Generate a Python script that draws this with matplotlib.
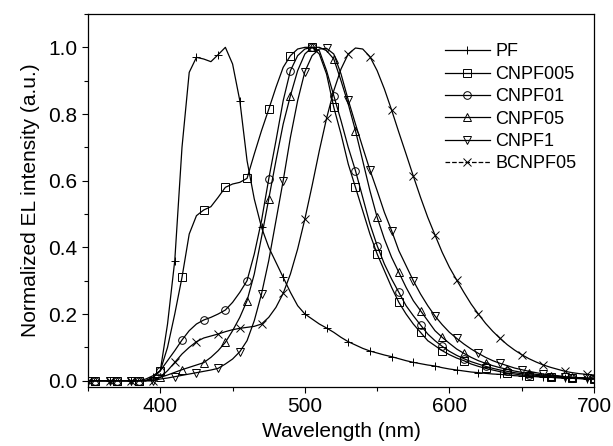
import numpy as np
import matplotlib
matplotlib.use("Agg")
import matplotlib.pyplot as plt
from matplotlib.lines import Line2D
from matplotlib.ticker import MultipleLocator

plt.rcParams["font.family"] = ["Liberation Sans", "DejaVu Sans"]

# wavelength grid (nm), one value every 5 nm from 350 to 700
wavelength = np.arange(350, 701, 5)

# normalized EL intensity
pf = [0, 0, 0, 0, 0, 0, 0, 0, 0, 0.01,
      0.03, 0.17, 0.36, 0.70, 0.925, 0.97, 0.965, 0.957, 0.978, 1.0,
      0.95, 0.84, 0.66, 0.545, 0.46, 0.40, 0.355, 0.31, 0.265, 0.225,
      0.20, 0.185, 0.17, 0.158, 0.145, 0.13, 0.117, 0.107, 0.097, 0.089,
      0.083, 0.077, 0.072, 0.066, 0.06, 0.055, 0.051, 0.047, 0.044, 0.039,
      0.035, 0.032, 0.029, 0.026, 0.024, 0.022, 0.02, 0.019, 0.017, 0.015,
      0.014, 0.013, 0.012, 0.011, 0.01, 0.009, 0.008, 0.007, 0.007, 0.006,
      0.005]
cnpf005 = [0, 0, 0, 0, 0, 0, 0, 0, 0.005, 0.015,
           0.03, 0.10, 0.20, 0.31, 0.44, 0.495, 0.512, 0.522, 0.55, 0.58,
           0.59, 0.595, 0.607, 0.68, 0.75, 0.814, 0.88, 0.94, 0.975, 0.995,
           1.0, 1.0, 0.98, 0.92, 0.82, 0.74, 0.65, 0.58, 0.51, 0.44,
           0.38, 0.33, 0.28, 0.235, 0.2, 0.17, 0.145, 0.12, 0.105, 0.09,
           0.078, 0.068, 0.06, 0.05, 0.043, 0.037, 0.032, 0.027, 0.023, 0.02,
           0.017, 0.015, 0.013, 0.011, 0.01, 0.009, 0.008, 0.007, 0.006, 0.005,
           0.005]
cnpf01 = [0, 0, 0, 0, 0, 0, 0, 0, 0, 0.01,
          0.03, 0.06, 0.09, 0.122, 0.15, 0.17, 0.182, 0.19, 0.2, 0.212,
          0.235, 0.265, 0.30, 0.38, 0.48, 0.605, 0.72, 0.84, 0.93, 0.975,
          0.995, 1.0, 0.99, 0.93, 0.855, 0.78, 0.70, 0.63, 0.55, 0.47,
          0.405, 0.35, 0.305, 0.265, 0.225, 0.195, 0.167, 0.14, 0.12, 0.103,
          0.088, 0.076, 0.066, 0.057, 0.05, 0.043, 0.037, 0.032, 0.028, 0.024,
          0.021, 0.018, 0.016, 0.014, 0.012, 0.011, 0.009, 0.008, 0.007, 0.006,
          0.006]
cnpf05 = [0, 0, 0, 0, 0, 0, 0, 0, 0, 0.005,
          0.01, 0.017, 0.025, 0.033, 0.04, 0.047, 0.054, 0.07, 0.09, 0.115,
          0.15, 0.19, 0.24, 0.32, 0.43, 0.545, 0.66, 0.77, 0.855, 0.93,
          0.98, 1.0, 1.0, 0.99, 0.965, 0.9, 0.83, 0.75, 0.66, 0.57,
          0.49, 0.425, 0.37, 0.325, 0.28, 0.24, 0.21, 0.18, 0.15, 0.13,
          0.112, 0.095, 0.082, 0.07, 0.06, 0.052, 0.045, 0.039, 0.034, 0.029,
          0.025, 0.022, 0.019, 0.017, 0.015, 0.013, 0.011, 0.01, 0.009, 0.008,
          0.007]
cnpf1 = [0, 0, 0, 0, 0, 0, 0, 0, 0, 0,
         0.005, 0.008, 0.012, 0.016, 0.02, 0.024, 0.028, 0.032, 0.037, 0.05,
         0.065, 0.087, 0.12, 0.18, 0.26, 0.36, 0.48, 0.60, 0.73, 0.84,
         0.927, 0.975, 0.995, 0.997, 0.98, 0.92, 0.842, 0.77, 0.70, 0.632,
         0.57, 0.505, 0.45, 0.39, 0.345, 0.30, 0.26, 0.225, 0.194, 0.168,
         0.145, 0.127, 0.11, 0.095, 0.082, 0.07, 0.06, 0.052, 0.045, 0.038,
         0.033, 0.028, 0.024, 0.02, 0.017, 0.015, 0.012, 0.01, 0.009, 0.008,
         0.007]
bcnpf05 = [0, 0, 0, 0, 0, 0, 0, 0, 0, 0,
           0.01, 0.03, 0.055, 0.08, 0.1, 0.117, 0.128, 0.134, 0.14, 0.147,
           0.153, 0.157, 0.16, 0.163, 0.17, 0.19, 0.22, 0.262, 0.32, 0.395,
           0.485, 0.585, 0.69, 0.787, 0.87, 0.935, 0.98, 0.998, 0.995, 0.972,
           0.93, 0.875, 0.812, 0.745, 0.68, 0.614, 0.55, 0.49, 0.437, 0.385,
           0.34, 0.302, 0.265, 0.23, 0.2, 0.172, 0.148, 0.127, 0.108, 0.092,
           0.078, 0.066, 0.056, 0.047, 0.04, 0.034, 0.028, 0.024, 0.021, 0.019,
           0.017]

series = [
    ("PF", pf, "+", (0, 3), "-"),
    ("CNPF005", cnpf005, "s", (1, 3), "-"),
    ("CNPF01", cnpf01, "o", (1, 3), "-"),
    ("CNPF05", cnpf05, "^", (1, 3), "-"),
    ("CNPF1", cnpf1, "v", (0, 3), "-"),
    ("BCNPF05", bcnpf05, "x", (0, 3), "--"),
]

fig = plt.figure(figsize=(6.13, 4.46), dpi=100)
ax = fig.add_axes([0.1436, 0.133, 0.8254, 0.8356])

handles = []
for name, vals, mk, every, ls in series:
    ax.plot(wavelength, vals, color="black", linewidth=0.9, marker=mk,
            markevery=every, markersize=5.5, markerfacecolor="none",
            markeredgecolor="black", markeredgewidth=0.7)
    handles.append(Line2D([], [], color="black", linewidth=0.9, linestyle=ls,
                          marker=mk, markersize=5.5, markerfacecolor="none",
                          markeredgecolor="black", markeredgewidth=0.7))

ax.set_xlim(350, 700)
ax.set_ylim(-0.018, 1.1)
ax.xaxis.set_major_locator(MultipleLocator(100))
ax.xaxis.set_minor_locator(MultipleLocator(50))
ax.yaxis.set_major_locator(MultipleLocator(0.2))
ax.yaxis.set_minor_locator(MultipleLocator(0.1))
ax.set_xticks([400, 500, 600, 700])
ax.yaxis.set_major_formatter(plt.FuncFormatter(lambda v, p: f"{v:.1f}"))
ax.tick_params(which="both", direction="out", top=False, right=False,
               labelsize=15, width=0.8)
ax.tick_params(which="major", length=4)
ax.tick_params(which="minor", length=3)
for s in ax.spines.values():
    s.set_linewidth(0.9)

ax.set_xlabel("Wavelength (nm)", fontsize=15, labelpad=4)
ax.set_ylabel("Normalized EL intensity (a.u.)", fontsize=15, labelpad=6)

ax.legend(handles, [s[0] for s in series], loc="upper right",
          bbox_to_anchor=(0.99, 0.955), frameon=False, fontsize=13,
          handlelength=2.5, handletextpad=0.3, labelspacing=0.3,
          borderpad=0.2)

fig.savefig("out.png", dpi=100)
